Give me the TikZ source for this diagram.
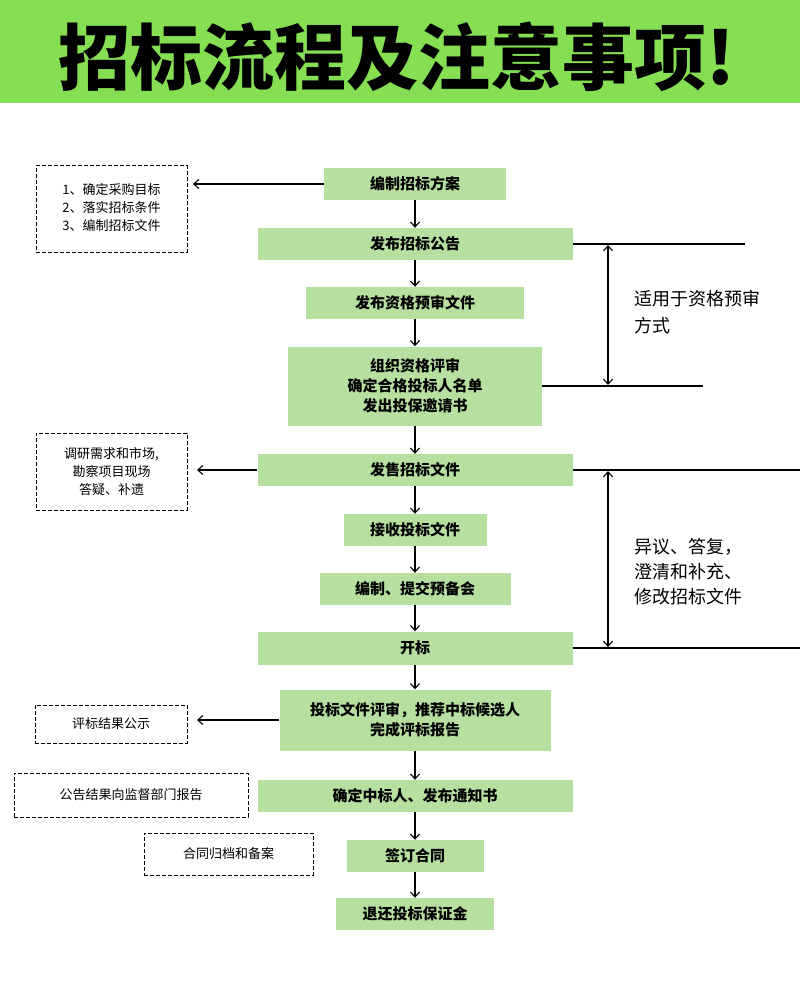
\documentclass[tikz,border=0pt]{standalone}
\usepackage{fontspec}
\setmainfont{Noto Sans CJK SC}
\usetikzlibrary{arrows.meta}
\definecolor{titlegreen}{HTML}{86DE52}
\definecolor{stagegreen}{HTML}{B6DFA0}
\tikzset{
  stage/.style={fill=stagegreen,font=\bfseries\fontsize{15}{20}\selectfont,align=center,inner sep=0pt},
  note/.style={draw,dash pattern=on 4pt off 2pt,line width=1pt,font=\fontsize{13}{18}\selectfont,align=center,inner sep=0pt},
  flow/.style={-{Straight Barb[length=5pt,width=9pt]},line width=1.1pt},
  both/.style={{Straight Barb[length=5pt,width=9pt]}-{Straight Barb[length=5pt,width=9pt]},line width=1.1pt}
}
\begin{document}
\begin{tikzpicture}[x=1pt,y=-1pt]
\useasboundingbox (0,0) rectangle (800,995);
\fill[titlegreen] (0,0) rectangle (800,103);
\node (title) at (397,57) {\bfseries\fontsize{72}{78}\selectfont 招标流程及注意事项!};
% stages
\node[stage,minimum width=182,minimum height=32] (s1) at (415,184) {编制招标方案};
\node[stage,minimum width=315,minimum height=32] (s2) at (415,244) {发布招标公告};
\node[stage,minimum width=218,minimum height=32] (s3) at (415,303) {发布资格预审文件};
\node[stage,minimum width=254,minimum height=79] (s4) at (415,386) {组织资格评审\\确定合格投标人名单\\发出投保邀请书};
\node[stage,minimum width=315,minimum height=32] (s5) at (415,470) {发售招标文件};
\node[stage,minimum width=143,minimum height=32] (s6) at (415,530) {接收投标文件};
\node[stage,minimum width=191,minimum height=32] (s7) at (415,589) {编制、提交预备会};
\node[stage,minimum width=315,minimum height=33] (s8) at (415,648) {开标};
\node[stage,minimum width=271,minimum height=61] (s9) at (415,720) {投标文件评审，推荐中标候选人\\完成评标报告};
\node[stage,minimum width=315,minimum height=32] (s10) at (415,796) {确定中标人、发布通知书};
\node[stage,minimum width=137,minimum height=32] (s11) at (415,856) {签订合同};
\node[stage,minimum width=158,minimum height=32] (s12) at (415,914) {退还投标保证金};
\foreach \from/\to in {s1/s2,s2/s3,s3/s4,s4/s5,s5/s6,s6/s7,s7/s8,s8/s9,s9/s10,s10/s11,s11/s12}
  \draw[flow] (\from) -- (\to);
% notes
\node[note,minimum width=151,minimum height=86] (n1) at (111.5,209) {\begin{tabular}{@{}l@{}}1、确定采购目标\\2、落实招标条件\\3、编制招标文件\end{tabular}};
\node[note,minimum width=151,minimum height=77] (n2) at (111.5,471.5) {调研需求和市场,\\勘察项目现场\\答疑、补遗};
\node[note,minimum width=152,minimum height=38] (n3) at (111,724) {评标结果公示};
\node[note,minimum width=234,minimum height=44] (n4) at (131,795) {公告结果向监督部门报告};
\node[note,minimum width=169,minimum height=42] (n5) at (228.5,854) {合同归档和备案};
\coordinate (a1) at (193,184); \coordinate (a2) at (197,470); \coordinate (a3) at (197,720);
\draw[flow] (s1.west) -- (a1);
\draw[flow] (s5.west) -- (a2);
\draw[flow] (s9.west) -- (a3);
% right side ranges
\coordinate (r1) at (745,244); \coordinate (r2) at (703,386);
\coordinate (r3) at (800,470); \coordinate (r4) at (800,648);
\draw[line width=1.1pt] (s2.east) -- (r1);
\draw[line width=1.1pt] (s4.east) -- (r2);
\draw[line width=1.1pt] (s5.east) -- (r3);
\draw[line width=1.1pt] (s8.east) -- (r4);
\coordinate (b1) at (608,245); \coordinate (b2) at (608,385);
\coordinate (b3) at (608,471); \coordinate (b4) at (608,647);
\draw[both] (b1) -- (b2);
\draw[both] (b3) -- (b4);
\node[anchor=north west,align=left,font=\fontsize{18}{27}\selectfont,inner sep=0pt] (l1) at (634,290) {适用于资格预审\\方式};
\node[anchor=north west,align=left,font=\fontsize{18}{25}\selectfont,inner sep=0pt] (l2) at (634,538) {异议、答复，\\澄清和补充、\\修改招标文件};
\end{tikzpicture}
\end{document}
